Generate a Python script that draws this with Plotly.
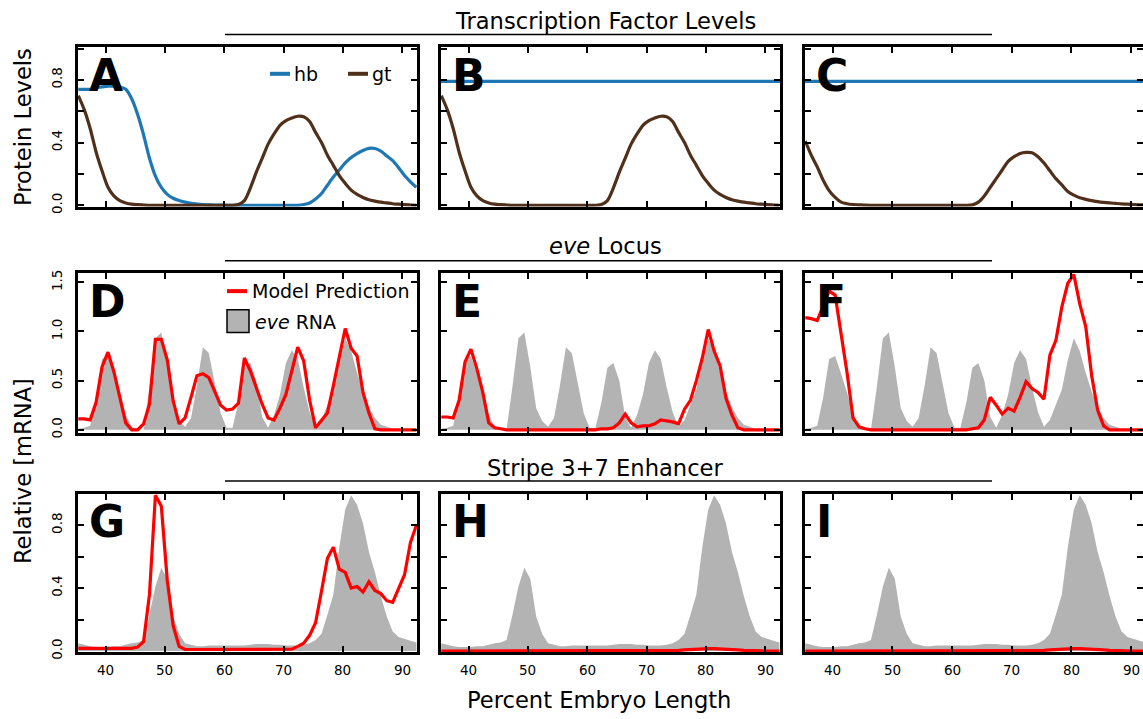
import plotly.graph_objects as go

# ---------------- data ----------------
X = [35.4, 36.4, 37.4, 38.4, 39.4, 40.4, 41.4, 42.4, 43.4, 44.4,
     45.4, 46.4, 47.4, 48.4, 49.4, 50.4, 51.4, 52.4, 53.4, 54.4,
     55.4, 56.4, 57.4, 58.4, 59.4, 60.4, 61.4, 62.4, 63.4, 64.4,
     65.4, 66.4, 67.4, 68.4, 69.4, 70.4, 71.4, 72.4, 73.4, 74.4,
     75.4, 76.4, 77.4, 78.4, 79.4, 80.4, 81.4, 82.4, 83.4, 84.4,
     85.4, 86.4, 87.4, 88.4, 89.4, 90.4, 91.4, 92.4]

hb_A = [0.74, 0.74, 0.74, 0.75, 0.755, 0.76, 0.76, 0.755, 0.74, 0.68,
        0.58, 0.45, 0.30, 0.186, 0.114, 0.07, 0.045, 0.03, 0.02, 0.012,
        0.008, 0.005, 0.003, 0.002, 0.001, 0.0, 0.0, 0.0, 0.0, 0.0,
        0.0, 0.0, 0.0, 0.0, 0.0, 0.0, 0.0, 0.0, 0.005, 0.015,
        0.04, 0.075, 0.128, 0.18, 0.225, 0.27, 0.305, 0.33, 0.35, 0.363,
        0.362, 0.345, 0.315, 0.285, 0.24, 0.19, 0.15, 0.115]
hb_flat_x = [35.35, 92.5]
hb_flat = [0.79, 0.79]

gt_AB = [0.70, 0.61, 0.49, 0.34, 0.22, 0.115, 0.06, 0.03, 0.015, 0.007,
         0.004, 0.002, 0.0, 0.0, 0.0, 0.0, 0.0, 0.0, 0.0, 0.0,
         0.0, 0.0, 0.0, 0.0, 0.0, 0.0, 0.0, 0.005, 0.03, 0.11,
         0.21, 0.30, 0.39, 0.455, 0.51, 0.54, 0.557, 0.568, 0.565, 0.535,
         0.465, 0.40, 0.32, 0.255, 0.19, 0.14, 0.097, 0.07, 0.05, 0.035,
         0.027, 0.02, 0.015, 0.01, 0.007, 0.004, 0.002, 0.0]

gt_C = [0.41, 0.32, 0.245, 0.16, 0.094, 0.05, 0.02, 0.01, 0.005, 0.003,
        0.001, 0.0, 0.0, 0.0, 0.0, 0.0, 0.0, 0.0, 0.0, 0.0,
        0.0, 0.0, 0.0, 0.0, 0.0, 0.0, 0.0, 0.0, 0.003, 0.02,
        0.06, 0.115, 0.17, 0.225, 0.28, 0.31, 0.33, 0.337, 0.335, 0.31,
        0.27, 0.22, 0.17, 0.13, 0.088, 0.065, 0.048, 0.038, 0.03, 0.024,
        0.019, 0.015, 0.012, 0.009, 0.007, 0.005, 0.003, 0.002]

eve_rna = [0.01, 0.02, 0.04, 0.33, 0.72, 0.75, 0.57, 0.38, 0.15, 0.03,
           0.01, 0.00, 0.44, 0.93, 0.99, 0.64, 0.22, 0.09, 0.03, 0.12,
           0.45, 0.84, 0.78, 0.49, 0.17, 0.02, 0.02, 0.28, 0.63, 0.68,
           0.50, 0.13, 0.02, 0.15, 0.36, 0.68, 0.81, 0.72, 0.43, 0.18,
           0.03, 0.10, 0.26, 0.41, 0.71, 0.93, 0.80, 0.58, 0.39, 0.23,
           0.12, 0.05, 0.03, 0.01, 0.01, 0.00, 0.00, 0.00]

model_D = [0.11, 0.11, 0.10, 0.28, 0.64, 0.79, 0.59, 0.33, 0.07, 0.0,
           0.0, 0.06, 0.26, 0.92, 0.92, 0.71, 0.29, 0.06, 0.12, 0.33,
           0.55, 0.57, 0.53, 0.39, 0.25, 0.20, 0.21, 0.27, 0.73, 0.60,
           0.42, 0.26, 0.12, 0.10, 0.22, 0.36, 0.60, 0.84, 0.70, 0.30,
           0.02, 0.09, 0.17, 0.45, 0.75, 1.03, 0.83, 0.75, 0.38, 0.17,
           0.01, 0.0, 0.0, 0.0, 0.0, 0.0, 0.0, 0.0]

model_E = [0.13, 0.13, 0.12, 0.30, 0.69, 0.82, 0.62, 0.38, 0.07, 0.02,
           0.01, 0.0, 0.0, 0.0, 0.0, 0.0, 0.0, 0.0, 0.0, 0.0,
           0.0, 0.0, 0.0, 0.0, 0.0, 0.0, 0.0, 0.01, 0.01, 0.02,
           0.07, 0.16, 0.07, 0.03, 0.04, 0.04, 0.06, 0.10, 0.09, 0.08,
           0.06, 0.21, 0.30, 0.50, 0.73, 1.02, 0.80, 0.65, 0.32, 0.15,
           0.02, 0.0, 0.0, 0.0, 0.0, 0.0, 0.0, 0.0]

model_F = [1.14, 1.13, 1.11, 1.25, 1.41, 1.37, 0.99, 0.58, 0.12, 0.03,
           0.01, 0.0, 0.0, 0.0, 0.0, 0.0, 0.0, 0.0, 0.0, 0.0,
           0.0, 0.0, 0.0, 0.0, 0.0, 0.0, 0.0, 0.0, 0.01, 0.02,
           0.10, 0.33, 0.25, 0.16, 0.22, 0.19, 0.33, 0.49, 0.42, 0.38,
           0.31, 0.76, 0.91, 1.25, 1.49, 1.58, 1.28, 1.05, 0.55, 0.20,
           0.04, 0.0, 0.0, 0.0, 0.0, 0.0, 0.0, 0.0]

rna_37 = [0.05, 0.04, 0.03, 0.025, 0.025, 0.025, 0.03, 0.03, 0.04, 0.05,
          0.055, 0.07, 0.23, 0.41, 0.53, 0.46, 0.22, 0.11, 0.05, 0.04,
          0.03, 0.03, 0.035, 0.035, 0.035, 0.035, 0.035, 0.035, 0.035, 0.04,
          0.045, 0.045, 0.045, 0.04, 0.04, 0.035, 0.035, 0.035, 0.04, 0.05,
          0.07, 0.11, 0.23, 0.36, 0.66, 0.90, 0.99, 0.93, 0.81, 0.63,
          0.50, 0.35, 0.22, 0.125, 0.09, 0.075, 0.065, 0.055]

model_G = [0.017, 0.017, 0.017, 0.017, 0.017, 0.017, 0.017, 0.017, 0.017, 0.017,
           0.025, 0.06, 0.36, 0.99, 0.92, 0.45, 0.16, 0.03, 0.01, 0.01,
           0.01, 0.01, 0.01, 0.01, 0.01, 0.01, 0.01, 0.01, 0.01, 0.01,
           0.01, 0.01, 0.01, 0.01, 0.01, 0.01, 0.012, 0.03, 0.05, 0.10,
           0.18, 0.38, 0.59, 0.66, 0.52, 0.50, 0.40, 0.41, 0.375, 0.44,
           0.385, 0.365, 0.32, 0.31, 0.40, 0.485, 0.69, 0.80]

model_HI = [0.0, 0.0, 0.0, 0.0, 0.0, 0.0, 0.0, 0.0, 0.0, 0.0,
            0.0, 0.0, 0.0, 0.0, 0.0, 0.0, 0.0, 0.0, 0.0, 0.0,
            0.0, 0.0, 0.0, 0.0, 0.0, 0.0, 0.0, 0.0, 0.0, 0.0,
            0.0, 0.0, 0.0, 0.0, 0.0, 0.0, 0.0, 0.0, 0.0, 0.002,
            0.004, 0.007, 0.01, 0.013, 0.015, 0.016, 0.016, 0.015, 0.013, 0.01,
            0.007, 0.004, 0.002, 0.0, 0.0, 0.0, 0.0, 0.0]

x_tick_vals = [40, 50, 60, 70, 80, 90]
x_tick_text = ["40", "50", "60", "70", "80", "90"]
y_tick_vals = [[0, 0.2, 0.4, 0.6, 0.8, 1.0], [0, 0.5, 1.0, 1.5], [0, 0.2, 0.4, 0.6, 0.8, 1.0]]
y_tick_text = [["0.0", "", "0.4", "", "0.8", ""], ["0.0", "0.5", "1.0", "1.5"], ["0.0", "", "0.4", "", "0.8", ""]]
letters = [["A", "B", "C"], ["D", "E", "F"], ["G", "H", "I"]]
row_titles = ["Transcription Factor Levels", "<i>eve</i> Locus", "Stripe 3+7 Enhancer"]

# ---------------- styling / layout ----------------
W, H = 1143, 719
FONT = "DejaVu Sans"
BLUE = "#1f78b4"
BROWN = "#50301a"
RED = "#ff0000"
GRAY = "#b3b3b3"
BIG = 22.6

col_px = [(78, 417), (441, 780), (805, 1143)]
row_px = [(44, 206), (274, 436), (498, 659)]
x_ranges = [[35.35, 92.5], [35.35, 92.5], [35.35, 92.0]]
y_ranges = [[-0.008, 1.008], [-0.03, 1.59], [-0.006, 1.0]]

fig = go.Figure()


def ax_id(r, c):
    return r * 3 + c + 1


def sfx(n):
    return "" if n == 1 else str(n)


def add(r, c, trace):
    n = ax_id(r, c)
    trace.update(xaxis="x" + sfx(n), yaxis="y" + sfx(n))
    fig.add_trace(trace)


# Row 1: transcription factors
hb_series = [(X, hb_A), (hb_flat_x, hb_flat), (hb_flat_x, hb_flat)]
gt_series = [gt_AB, gt_AB, gt_C]
for c in range(3):
    hx, hy = hb_series[c]
    add(0, c, go.Scatter(x=hx, y=hy, mode="lines", line=dict(color=BLUE, width=3.2, shape="spline", smoothing=0.8),
                         showlegend=False, hoverinfo="skip"))
    add(0, c, go.Scatter(x=X, y=gt_series[c], mode="lines",
                         line=dict(color=BROWN, width=3.2, shape="spline", smoothing=0.8),
                         showlegend=False, hoverinfo="skip"))

# Row 2: eve locus
models_eve = [model_D, model_E, model_F]
for c in range(3):
    add(1, c, go.Scatter(x=X, y=eve_rna, mode="lines", fill="tozeroy", fillcolor=GRAY,
                         line=dict(color=GRAY, width=0), showlegend=False, hoverinfo="skip"))
    add(1, c, go.Scatter(x=X, y=models_eve[c], mode="lines", line=dict(color=RED, width=3.2),
                         showlegend=False, hoverinfo="skip"))

# Row 3: stripe 3+7 enhancer
models_37 = [model_G, model_HI, model_HI]
for c in range(3):
    add(2, c, go.Scatter(x=X, y=rna_37, mode="lines", fill="tozeroy", fillcolor=GRAY,
                         line=dict(color=GRAY, width=0), showlegend=False, hoverinfo="skip"))
    add(2, c, go.Scatter(x=X, y=models_37[c], mode="lines", line=dict(color=RED, width=3.2),
                         showlegend=False, hoverinfo="skip"))

layout = dict(
    width=W, height=H, margin=dict(l=0, r=0, t=0, b=0),
    paper_bgcolor="white", plot_bgcolor="white",
    font=dict(family=FONT, color="black"),
    showlegend=False,
)

tick_common = dict(ticks="inside", ticklen=6, tickwidth=1.5, tickcolor="black",
                   showgrid=False, zeroline=False, fixedrange=True)

annotations = []
shapes = []

for r in range(3):
    for c in range(3):
        n = ax_id(r, c)
        xs = sfx(n)
        x0, x1 = col_px[c]
        y0, y1 = row_px[r]
        layout["xaxis" + xs] = dict(
            domain=[x0 / W, x1 / W], range=x_ranges[c], anchor="y" + xs,
            tickvals=x_tick_vals, showticklabels=False,
            showline=True, linewidth=3, linecolor="black", mirror="ticks",
            **tick_common,
        )
        layout["yaxis" + xs] = dict(
            domain=[1 - y1 / H, 1 - y0 / H], range=y_ranges[r], anchor="x" + xs,
            tickvals=y_tick_vals[r], ticktext=y_tick_text[r], showticklabels=(c == 0),
            tickangle=-90,
            showline=True, linewidth=3, linecolor="black",
            mirror=("ticks" if c < 2 else False),
            tickfont=dict(size=13.5, family=FONT, color="black"), ticklabelstandoff=8,
            **tick_common,
        )
        if c == 2:
            # right-hand ticks of the clipped third column (frame edge lies beyond the canvas)
            k = 9 + r + 1
            layout[f"yaxis{k}"] = dict(
                domain=[1 - y1 / H, 1 - y0 / H], range=y_ranges[r], anchor="x" + xs,
                overlaying="y" + xs, side="right", tickvals=y_tick_vals[r],
                showticklabels=False, showline=False, **tick_common,
            )
            fig.add_trace(go.Scatter(x=[None], y=[None], xaxis="x" + xs, yaxis=f"y{k}",
                                     mode="lines", showlegend=False, hoverinfo="skip"))
        if r == 2:
            # x tick labels of the bottom row, placed at the axis values
            for tv, tt in zip(x_tick_vals, x_tick_text):
                annotations.append(dict(text=tt, x=tv, xref="x" + xs, y=1 - 677 / H, yref="paper",
                                        xanchor="center", yanchor="middle", showarrow=False,
                                        font=dict(size=13.5, family=FONT, color="black")))

# row titles and rules
title_y = [17, 246, 472]
rule_y = [31, 261, 485]
for r in range(3):
    annotations.append(dict(text=row_titles[r], x=605 / W, y=1 - title_y[r] / H, xref="paper", yref="paper",
                            xanchor="center", yanchor="middle", showarrow=False,
                            font=dict(size=BIG, family=FONT, color="black")))
    shapes.append(dict(type="line", xref="paper", yref="paper", x0=225 / W, x1=992 / W,
                       y0=1 - rule_y[r] / H, y1=1 - rule_y[r] / H, line=dict(color="black", width=1.5)))

# panel letters
for r in range(3):
    for c in range(3):
        xs = sfx(ax_id(r, c))
        annotations.append(dict(text="<b>" + letters[r][c] + "</b>", x=0.028, y=0.825,
                                xref="x" + xs + " domain", yref="y" + xs + " domain",
                                xanchor="left", yanchor="middle", showarrow=False,
                                font=dict(size=44, family=FONT, color="black")))

# axis titles
annotations.append(dict(text="Protein Levels", x=23 / W, y=1 - 125 / H, xref="paper", yref="paper",
                        textangle=-90, xanchor="center", yanchor="middle", showarrow=False,
                        font=dict(size=BIG, family=FONT, color="black")))
annotations.append(dict(text="Relative [mRNA]", x=23 / W, y=1 - 475 / H, xref="paper", yref="paper",
                        textangle=-90, xanchor="center", yanchor="middle", showarrow=False,
                        font=dict(size=BIG, family=FONT, color="black")))
annotations.append(dict(text="Percent Embryo Length", x=599 / W, y=1 - 708 / H, xref="paper", yref="paper",
                        xanchor="center", yanchor="middle", showarrow=False,
                        font=dict(size=BIG, family=FONT, color="black")))

# legend panel A
leg_y = 1 - 71 / H
shapes.append(dict(type="line", xref="paper", yref="paper", x0=270 / W, x1=290 / W, y0=leg_y, y1=leg_y,
                   line=dict(color=BLUE, width=4)))
annotations.append(dict(text="hb", x=292 / W, y=leg_y, xref="paper", yref="paper", xanchor="left",
                        yanchor="middle", showarrow=False, font=dict(size=19, family=FONT, color="black")))
shapes.append(dict(type="line", xref="paper", yref="paper", x0=348 / W, x1=368 / W, y0=leg_y, y1=leg_y,
                   line=dict(color=BROWN, width=4)))
annotations.append(dict(text="gt", x=370 / W, y=leg_y, xref="paper", yref="paper", xanchor="left",
                        yanchor="middle", showarrow=False, font=dict(size=19, family=FONT, color="black")))

# legend panel D
ly1 = 1 - 292 / H
shapes.append(dict(type="line", xref="paper", yref="paper", x0=227 / W, x1=247 / W, y0=ly1, y1=ly1,
                   line=dict(color=RED, width=4)))
annotations.append(dict(text="Model Prediction", x=250 / W, y=ly1, xref="paper", yref="paper", xanchor="left",
                        yanchor="middle", showarrow=False, font=dict(size=19, family=FONT, color="black")))
shapes.append(dict(type="rect", xref="paper", yref="paper", x0=227 / W, x1=249 / W, y0=1 - 334 / H, y1=1 - 311 / H,
                   fillcolor=GRAY, line=dict(color="black", width=1.5)))
annotations.append(dict(text="<i>eve</i> RNA", x=253 / W, y=1 - 323 / H, xref="paper", yref="paper",
                        xanchor="left", yanchor="middle", showarrow=False,
                        font=dict(size=19, family=FONT, color="black")))

layout["annotations"] = annotations
layout["shapes"] = shapes
fig.update_layout(**layout)

fig.write_html("out.html")
